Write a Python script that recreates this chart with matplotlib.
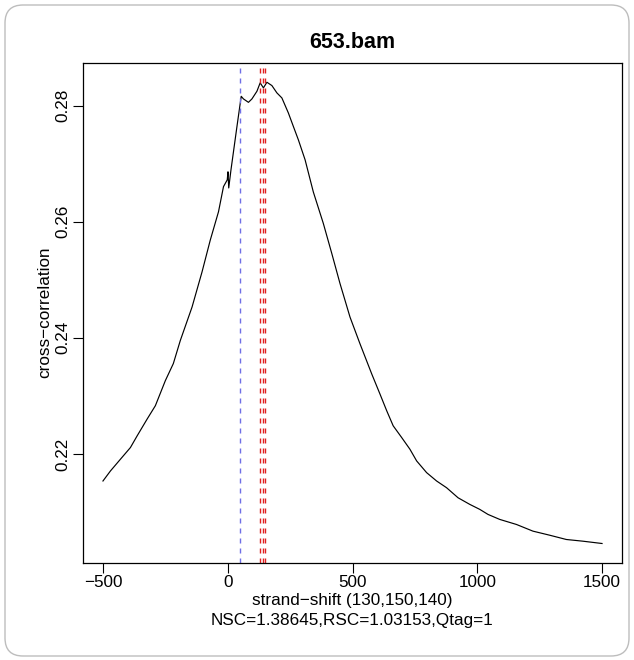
import matplotlib
matplotlib.use("Agg")
import matplotlib.pyplot as plt
from matplotlib.patches import FancyBboxPatch

plt.rcParams['font.family'] = ['Liberation Sans', 'DejaVu Sans']

title = "653.bam"
xlabel = "strand\u2212shift (130,150,140)"
subtitle = "NSC=1.38645,RSC=1.03153,Qtag=1"
ylabel = "cross\u2212correlation"

shift = [-500, -470, -430, -390, -363, -323, -290, -250, -218, -190, -143, -103, -70, -37,
         -17, -2, 1, 4, 13, 37, 54, 63, 83, 97, 117, 130, 143, 157, 177, 197, 217, 243,
         263, 283, 310, 343, 383, 417, 450, 470, 490, 530, 577, 610, 637, 663, 697, 730,
         757, 797, 837, 877, 923, 970, 1010, 1043, 1090, 1157, 1223, 1290, 1357, 1423, 1500]
cc = [0.21533, 0.21706, 0.21908, 0.22109, 0.22311, 0.22600, 0.22830, 0.23262, 0.23556,
      0.23954, 0.24530, 0.25135, 0.25683, 0.26172, 0.26605, 0.26721, 0.26860, 0.26582,
      0.26894, 0.27642, 0.28161, 0.28116, 0.28057, 0.28116, 0.28248, 0.28393, 0.28306,
      0.28403, 0.28346, 0.28220, 0.28133, 0.27874, 0.27642, 0.27412, 0.27067, 0.26513,
      0.25972, 0.25453, 0.24934, 0.24646, 0.24357, 0.23897, 0.23378, 0.23032, 0.22744,
      0.22484, 0.22282, 0.22081, 0.21879, 0.21677, 0.21533, 0.21417, 0.21244, 0.21130,
      0.21044, 0.20957, 0.20871, 0.20784, 0.20669, 0.20599, 0.20525, 0.20496, 0.20456]
phantom_shift = 50
strand_shifts = [130, 140, 150]

xticks = [-500, 0, 500, 1000, 1500]
yticks = [0.22, 0.24, 0.26, 0.28]

W, H = 634, 660
fig = plt.figure(figsize=(W / 100, H / 100), dpi=100)
ax = fig.add_axes([83 / W, 1 - 563 / H, (622 - 83) / W, (563 - 62.7) / H])

ax.plot(shift, cc, color='black', lw=0.85)
ax.axvline(phantom_shift, color='#6f6fe6', lw=1.0, linestyle=(0, (3.6, 3.6)))
for s in strand_shifts:
    ax.axvline(s, color='#e02020', lw=1.0, linestyle=(0, (3.6, 3.6)))

ax.set_xlim(-580, 1580)
ax.set_ylim(0.2012, 0.2874)
ax.set_xticks(xticks)
ax.set_yticks(yticks)
ax.set_xticklabels([f"{t}".replace('-', '\u2212') for t in xticks])
ax.set_yticklabels([f"{t:.2f}" for t in yticks], rotation=90, va='center')
ax.tick_params(direction='out', length=7.2, width=0.8, labelsize=12.3, pad=1.5, colors='black')
ax.tick_params(axis='y', pad=2)
for sp in ax.spines.values():
    sp.set_linewidth(0.9)

fig.text(352.5 / W, 1 - 42 / H, title, ha='center', va='center', fontsize=15.5, fontweight='bold')
fig.text(352.5 / W, 1 - 601 / H, xlabel, ha='center', va='center', fontsize=12.3)
fig.text(352.5 / W, 1 - 621 / H, subtitle, ha='center', va='center', fontsize=12.3)
fig.text(45 / W, 1 - 312 / H, ylabel, ha='center', va='center', rotation=90, fontsize=12.3)

frame = FancyBboxPatch((5 / 100, 4 / 100), 624 / 100, 651 / 100,
                       boxstyle="round,pad=0,rounding_size=0.18",
                       transform=fig.dpi_scale_trans, fill=False,
                       ec='#bdbdbd', lw=1.0)
fig.add_artist(frame)

fig.savefig("out.png", dpi=100)
